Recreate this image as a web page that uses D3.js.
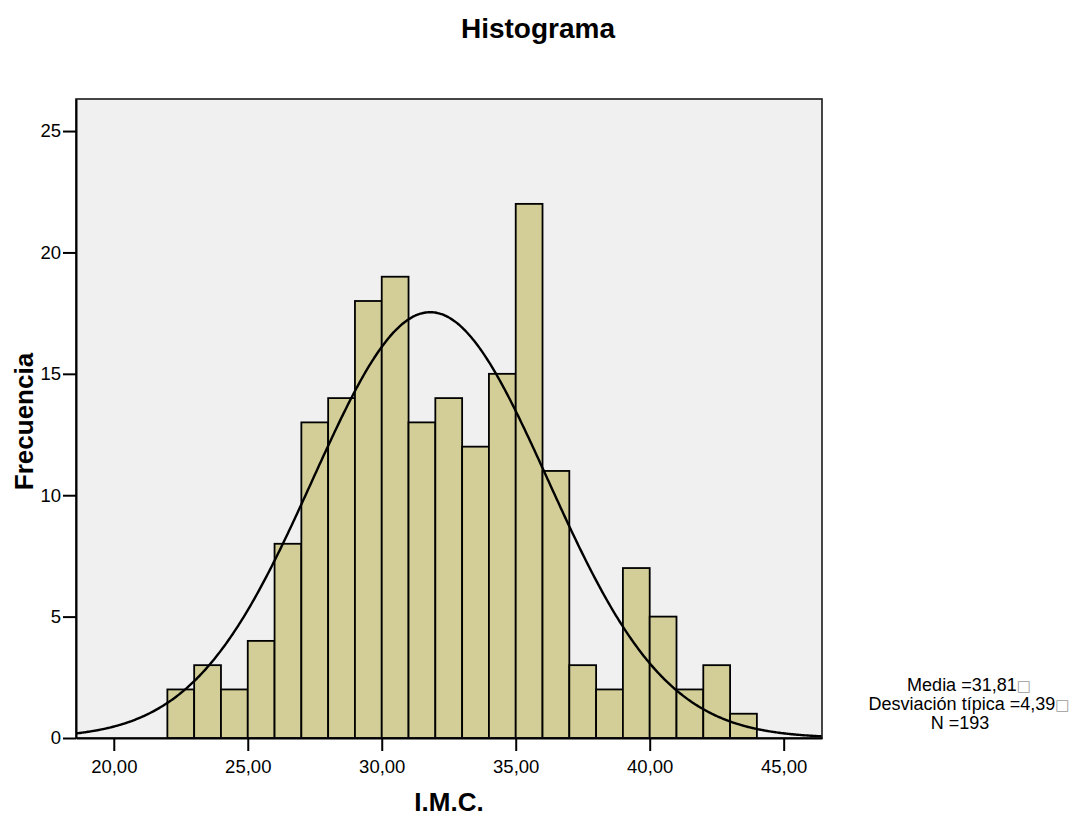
<!DOCTYPE html>
<html lang="es">
<head>
<meta charset="utf-8">
<title>Histograma</title>
<script src="https://cdn.jsdelivr.net/npm/d3@7/dist/d3.min.js"></script>
<style>
	html, body { margin: 0; padding: 0; background: #fff; }
	svg { display: block; font-family: "Liberation Sans", Arial, Helvetica, sans-serif; }
	.plot-bg { fill: #f0f0f0; }
	.bar { fill: #d3ce97; stroke: #000; stroke-width: 1.8; }
	.curve { fill: none; stroke: #000; stroke-width: 2.4; }
	.frame { fill: none; stroke: #1a1a1a; stroke-width: 1.6; }
	.axis path, .axis line { stroke: #000; stroke-width: 2; }
	.axis text { font-size: 18.5px; fill: #000; }
	.title, .axis-title { font-weight: bold; fill: #000; }
	.stats { font-size: 18px; fill: #000; }
	.tofu { fill: #9a9a9a; font-family: "DejaVu Sans", sans-serif; font-size: 15px; }
</style>
</head>
<body>
<svg id="chart"></svg>
<script>
/* global d3 */

// I.M.C. bins, one unit wide, from 22 to 44
const binStarts = [ 22, 23, 24, 25, 26, 27, 28, 29, 30, 31, 32, 33, 34, 35, 36, 37, 38, 39, 40, 41, 42, 43 ];
const binCounts = [ 2, 3, 2, 4, 8, 13, 14, 18, 19, 13, 14, 12, 15, 22, 11, 3, 2, 7, 5, 2, 3, 1 ];
const binWidth = 1;

// summary stats for the normal curve
const mean = 31.81;
const stdDev = 4.39;
const total = 193;

const xTicks = [ 20, 25, 30, 35, 40, 45 ];
const yTicks = [ 0, 5, 10, 15, 20, 25 ];
const xDomain = [ 18.59, 46.43 ];
const yDomain = [ 0, 26.32 ];

const statLines = [ 'Media =31,81', 'Desviación típica =4,39', 'N =193' ];

/**
 * Frequency histogram with a fitted normal curve
 */
class NormalHistogram {
	constructor( selector, config ) {
		this.selector = selector;
		this.config = config;

		this.createSVG();
		this.setupScales();
		this.renderBackground();
		this.renderBars();
		this.renderCurve();
		this.renderAxes();
		this.renderLabels();
	}

	createSVG() {
		const { width, height, margin } = this.config;

		this.innerWidth = width - margin.left - margin.right;
		this.innerHeight = height - margin.top - margin.bottom;

		this.root = d3
			.select( this.selector )
			.attr( 'width', width )
			.attr( 'height', height );

		this.svg = this.root
			.append( 'g' )
			.attr( 'transform', `translate(${ margin.left },${ margin.top })` );
	}

	setupScales() {
		this.xScale = d3.scaleLinear().domain( xDomain ).range( [ 0, this.innerWidth ] );
		this.yScale = d3.scaleLinear().domain( yDomain ).range( [ this.innerHeight, 0 ] );
	}

	renderBackground() {
		this.svg
			.append( 'rect' )
			.attr( 'class', 'plot-bg' )
			.attr( 'width', this.innerWidth )
			.attr( 'height', this.innerHeight );
	}

	renderBars() {
		const data = binStarts.map( ( x0, i ) => ( { x0, x1: x0 + binWidth, count: binCounts[ i ] } ) );

		this.svg
			.selectAll( '.bar' )
			.data( data )
			.join( 'rect' )
			.attr( 'class', 'bar' )
			.attr( 'x', ( d ) => this.xScale( d.x0 ) )
			.attr( 'y', ( d ) => this.yScale( d.count ) )
			.attr( 'width', ( d ) => this.xScale( d.x1 ) - this.xScale( d.x0 ) )
			.attr( 'height', ( d ) => this.yScale( 0 ) - this.yScale( d.count ) );
	}

	renderCurve() {
		// expected frequency per bin under N(mean, stdDev)
		const density = ( x ) => total * binWidth / ( stdDev * Math.sqrt( 2 * Math.PI ) ) *
			Math.exp( -0.5 * ( ( x - mean ) / stdDev ) ** 2 );

		const [ lo, hi ] = this.xScale.domain();
		const xs = d3.range( lo, hi, 0.05 ).concat( [ hi ] );

		const line = d3
			.line()
			.x( ( x ) => this.xScale( x ) )
			.y( ( x ) => this.yScale( density( x ) ) )
			.curve( d3.curveBasis );

		this.svg
			.append( 'path' )
			.datum( xs )
			.attr( 'class', 'curve' )
			.attr( 'd', line );

		this.svg
			.append( 'rect' )
			.attr( 'class', 'frame' )
			.attr( 'width', this.innerWidth )
			.attr( 'height', this.innerHeight );
	}

	renderAxes() {
		const xAxis = d3
			.axisBottom( this.xScale )
			.tickValues( xTicks )
			.tickSize( 13 )
			.tickPadding( 9 )
			.tickSizeOuter( 0 )
			.tickFormat( ( d ) => d3.format( '.2f' )( d ).replace( '.', ',' ) );

		this.svg
			.append( 'g' )
			.attr( 'class', 'axis x-axis' )
			.attr( 'transform', `translate(0,${ this.innerHeight })` )
			.call( xAxis );

		const yAxis = d3
			.axisLeft( this.yScale )
			.tickValues( yTicks )
			.tickSize( 13 )
			.tickPadding( 2 )
			.tickSizeOuter( 0 );

		this.svg
			.append( 'g' )
			.attr( 'class', 'axis y-axis' )
			.call( yAxis );
	}

	renderLabels() {
		const { margin } = this.config;

		this.root
			.append( 'text' )
			.attr( 'class', 'title' )
			.attr( 'x', 538 )
			.attr( 'y', 38 )
			.attr( 'text-anchor', 'middle' )
			.style( 'font-size', '28px' )
			.text( 'Histograma' );

		this.root
			.append( 'text' )
			.attr( 'class', 'axis-title' )
			.attr( 'x', margin.left + this.innerWidth / 2 )
			.attr( 'y', 811 )
			.attr( 'text-anchor', 'middle' )
			.style( 'font-size', '26px' )
			.text( 'I.M.C.' );

		this.root
			.append( 'text' )
			.attr( 'class', 'axis-title' )
			.attr( 'transform', `translate(33,${ margin.top + this.innerHeight / 2 + 3 }) rotate(-90)` )
			.attr( 'text-anchor', 'middle' )
			.style( 'font-size', '26px' )
			.text( 'Frecuencia' );

		const stats = this.root
			.append( 'text' )
			.attr( 'class', 'stats' )
			.attr( 'text-anchor', 'middle' );

		statLines.forEach( ( line, i ) => {
			const row = stats
				.append( 'tspan' )
				.attr( 'x', i < 2 ? 969 : 960 )
				.attr( 'y', 691 + i * 19 )
				.text( line );

			if ( i < 2 ) {
				row.append( 'tspan' ).attr( 'class', 'tofu' ).text( '\u25A1' );
			}
		} );
	}
}

new NormalHistogram( '#chart', {
	width: 1080,
	height: 816,
	margin: { top: 99, right: 258, bottom: 78, left: 76 },
} );
</script>
</body>
</html>
